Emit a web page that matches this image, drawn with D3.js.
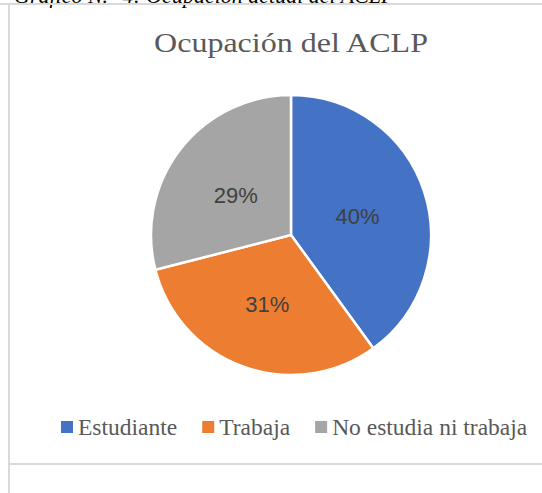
<!DOCTYPE html>
<html>
<head>
<meta charset="utf-8">
<script src="https://cdn.jsdelivr.net/npm/d3@7"></script>
<style>
  body { margin: 0; background: #fff; }
</style>
</head>
<body>
<script>
// Datos
var categorias = ["Estudiante", "Trabaja", "No estudia ni trabaja"];
var valores = [40, 31, 29];
var colores = ["#4472C4", "#ED7D31", "#A5A5A5"];
var titulo = "Ocupación del ACLP";

var width = 542, height = 493;

var svg = d3.select("body").append("svg")
    .attr("width", width)
    .attr("height", height);

// Texto del documento cortado arriba
svg.append("text")
    .attr("x", 14)
    .attr("y", 3)
    .attr("font-family", "Liberation Serif, Times New Roman, serif")
    .attr("font-style", "italic")
    .attr("font-size", 22)
    .attr("fill", "#000")
    .text("Gráfico N.° 4: Ocupación actual del ACLP");

// Bordes de la tabla
var borde = "#d9d9d9";
svg.append("rect").attr("x", 0).attr("y", 3).attr("width", width).attr("height", 2).attr("fill", borde);
svg.append("rect").attr("x", 8).attr("y", 3).attr("width", 2).attr("height", height).attr("fill", borde);
svg.append("rect").attr("x", 8).attr("y", 463).attr("width", width).attr("height", 2).attr("fill", borde);

// Titulo (ensanchado como en el original)
var tTitulo = svg.append("text")
    .attr("text-anchor", "middle")
    .attr("font-family", "Liberation Serif, Times New Roman, serif")
    .attr("font-size", 27)
    .attr("fill", "#595959")
    .text(titulo);
var escala = 274 / tTitulo.node().getComputedTextLength();
tTitulo.attr("transform", "translate(291,52) scale(" + escala + ",1)");

// Pastel
var cx = 291, cy = 235, r = 140;
var datos = categorias.map((c, i) => ({cat: c, val: valores[i], color: colores[i]}));

var pie = d3.pie().value(d => d.val).sort(null);
var arc = d3.arc().innerRadius(0).outerRadius(r);
var arcLabel = d3.arc().innerRadius(r * 0.5).outerRadius(r * 0.5);

var g = svg.append("g").attr("transform", "translate(" + cx + "," + cy + ")");

g.selectAll("path")
  .data(pie(datos))
  .enter().append("path")
    .attr("d", arc)
    .attr("fill", d => d.data.color)
    .attr("stroke", "#fff")
    .attr("stroke-width", 2.5)
    .attr("stroke-linejoin", "round");

g.selectAll(".label")
  .data(pie(datos))
  .enter().append("text")
    .attr("class", "label")
    .attr("transform", d => "translate(" + arcLabel.centroid(d) + ")")
    .attr("text-anchor", "middle")
    .attr("dy", "0.5em")
    .attr("font-family", "Liberation Sans, Arial, sans-serif")
    .attr("font-size", 22)
    .attr("fill", "#404040")
    .text(d => d.data.val + "%");

// Leyenda
var leyenda = svg.append("g");
var lx = 61;
datos.forEach(function(d) {
    leyenda.append("rect")
        .attr("x", lx).attr("y", 421)
        .attr("width", 12).attr("height", 12)
        .attr("fill", d.color);
    var t = leyenda.append("text")
        .attr("x", lx + 17)
        .attr("y", 435)
        .attr("font-family", "Liberation Serif, Times New Roman, serif")
        .attr("font-size", 23.5)
        .attr("fill", "#595959")
        .text(d.cat);
    lx += 17 + t.node().getComputedTextLength() + 25;
});
</script>
</body>
</html>
